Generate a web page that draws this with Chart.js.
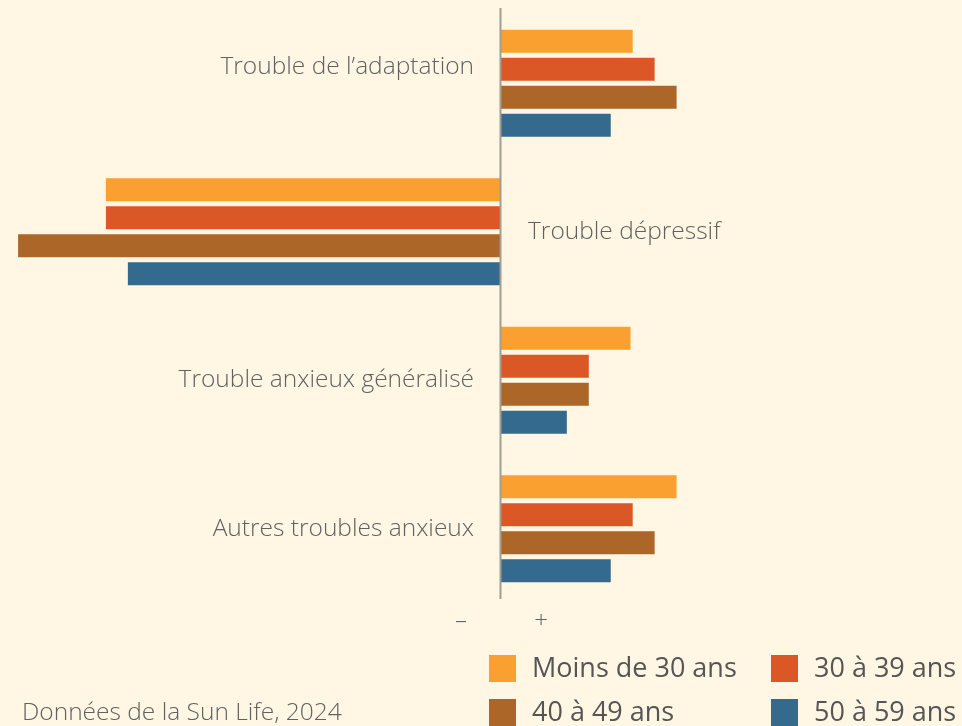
<!DOCTYPE html>
<html lang="fr">
<head>
<meta charset="utf-8">
<script src="https://cdn.jsdelivr.net/npm/chart.js@4.4.1/dist/chart.umd.min.js"></script>
<style>
  html, body { margin: 0; padding: 0; background: #fff7e4; overflow: hidden; }
  #wrap { position: relative; width: 962px; height: 726px; }
  #graphique { display: block; }
</style>
</head>
<body>
<div id="wrap"><canvas id="graphique" width="962" height="726" style="width:962px;height:726px"></canvas></div>
<script>
// ---------- DONNÉES ----------
const categories = [
  "Trouble de l\u2019adaptation",
  "Trouble d\u00e9pressif",
  "Trouble anxieux g\u00e9n\u00e9ralis\u00e9",
  "Autres troubles anxieux"
];
const moins30 = [30, -90, 29.5, 40];
const de30a39 = [35, -90, 20, 30];
const de40a49 = [40, -110, 20, 35];
const de50a59 = [25, -85, 15, 25];
const seriesLabels = ["Moins de 30 ans", "30 \u00e0 39 ans", "40 \u00e0 49 ans", "50 \u00e0 59 ans"];
const couleurs = ["#f9a030", "#dc5726", "#ab6628", "#346a8e"];
const signes = ["\u2013", "+"];
const source = "Donn\u00e9es de la Sun Life, 2024";

const texte = "#616161";
const policeLegere = "300 24.5px 'Open Sans', sans-serif";

// ---------- PLUGIN : libellés, axe zéro, légende ----------
const decor = {
  id: "decor",
  afterDatasetsDraw(chart) {
    const { ctx, scales } = chart;
    const x0 = scales.x.getPixelForValue(0);

    // ligne du zéro
    ctx.save();
    ctx.strokeStyle = "#a39c90";
    ctx.lineWidth = 2;
    ctx.beginPath();
    ctx.moveTo(x0 - 0.5, 8);
    ctx.lineTo(x0 - 0.5, 599);
    ctx.stroke();

    // libellés des catégories
    ctx.font = policeLegere;
    ctx.fillStyle = texte;
    ctx.textBaseline = "middle";
    categories.forEach((cat, i) => {
      let y = scales.y.getPixelForValue(i);
      if (i === 0) y -= 16;
      if (moins30[i] < 0) {
        ctx.textAlign = "left";
        ctx.fillText(cat, x0 + 27, y);
      } else {
        ctx.textAlign = "right";
        ctx.fillText(cat, x0 - 27, y);
      }
    });

    // signes – et +
    ctx.font = "300 24px 'Open Sans', sans-serif";
    ctx.textAlign = "center";
    ctx.fillText(signes[0], x0 - 40, 621);
    ctx.fillText(signes[1], x0 + 40, 621);

    // légende 2 x 2
    ctx.font = "400 27px 'Open Sans', sans-serif";
    ctx.textAlign = "left";
    const colX = [489, 771];
    const rowY = [655, 699];
    seriesLabels.forEach((lab, i) => {
      const bx = colX[i % 2];
      const by = rowY[Math.floor(i / 2)];
      ctx.fillStyle = couleurs[i];
      ctx.fillRect(bx, by, 27, 27);
      ctx.fillStyle = "#555555";
      ctx.fillText(lab, bx + 43, by + 14);
    });

    // source
    ctx.font = policeLegere;
    ctx.fillStyle = texte;
    ctx.fillText(source, 22, 713);
    ctx.restore();
  }
};

// ---------- GRAPHIQUE ----------
const series = [moins30, de30a39, de40a49, de50a59];
const datasets = series.map((valeurs, i) => ({
  label: seriesLabels[i],
  data: valeurs,
  backgroundColor: couleurs[i],
  borderWidth: 0,
  barPercentage: 0.82,
  categoryPercentage: 0.753
}));

new Chart(document.getElementById("graphique"), {
  type: "bar",
  data: { labels: categories, datasets: datasets },
  options: {
    indexAxis: "y",
    responsive: false,
    maintainAspectRatio: false,
    animation: false,
    devicePixelRatio: 1,
    layout: { padding: { top: 9, bottom: 123, left: 0, right: 0 } },
    scales: {
      x: { display: false, min: -501 / 4.39, max: 461 / 4.39 },
      y: { display: false }
    },
    plugins: {
      legend: { display: false },
      tooltip: { enabled: false }
    }
  },
  plugins: [decor]
});
</script>
</body>
</html>
